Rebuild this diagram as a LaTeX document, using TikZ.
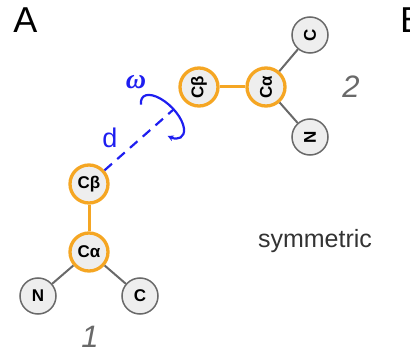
\documentclass[tikz,border=0pt]{standalone}
\usepackage{fontspec}
\setmainfont{Liberation Sans}
\newfontfamily\omfont{Liberation Serif}
\usetikzlibrary{arrows.meta}
\definecolor{cborange}{RGB}{245,166,35}
\definecolor{atomfill}{RGB}{238,238,238}
\definecolor{atomline}{RGB}{105,105,105}
\definecolor{dblue}{RGB}{30,30,240}
\tikzset{
  core/.style  = {circle, draw=cborange, line width=3.3pt, fill=atomfill, minimum size=38pt, inner sep=0, font=\fontsize{17}{17}\selectfont\bfseries},
  side/.style  = {circle, draw=atomline, line width=1.5pt, fill=atomfill, minimum size=36pt, inner sep=0, font=\fontsize{17}{17}\selectfont\bfseries},
  cbond/.style = {draw=cborange, line width=3pt},
  sbond/.style = {draw=atomline, line width=2pt},
  num/.style   = {text=atomline, inner sep=0, font=\fontsize{31}{31}\selectfont\itshape},
  geo/.style   = {dblue, line width=2.2pt}
}

\begin{document}
\begin{tikzpicture}[x=1pt,y=1pt]
  \useasboundingbox (0,0) rectangle (410,354);
  \node[font=\fontsize{36}{36}\selectfont] (pA) at (25.5,334) {A};
  \node[font=\fontsize{36}{36}\selectfont, anchor=west, inner sep=0] (pB) at (400,334) {B};
  % residuo 1 (in basso a sinistra)
  \node[core] (cb1) at (89,170) {Cβ};
  \node[core] (ca1) at (89,102) {Cα};
  \node[side] (n1) at (38,58) {N};
  \node[side] (c1) at (140,58) {C};
  \draw[cbond] (cb1)--(ca1); \draw[sbond] (ca1)--(n1); \draw[sbond] (ca1)--(c1);
  \node[num] (one) at (90,17) {1};
  % residuo 2, ruotato
  \node[core, rotate=90] (cb2) at (199,267) {Cβ};
  \node[core, rotate=90] (ca2) at (266,267) {Cα};
  \node[side, rotate=90] (c2) at (310,319) {C};
  \node[side, rotate=90] (n2) at (310,217) {N};
  \draw[cbond] (cb2)--(ca2); \draw[sbond] (ca2)--(c2); \draw[sbond] (ca2)--(n2);
  \node[num] (two) at (351,267) {2};
  % distanza d e angolo omega
  \draw[geo, dash pattern=on 10pt off 7pt, shorten >=13pt] (cb1)--(cb2);
  \coordinate (rot) at (162.5,237.5);
  \begin{scope}[shift={(rot)}, rotate=-45]
    \draw[geo, -{Stealth[length=6pt,width=6pt]}] (211:27.6pt and 13pt) arc[start angle=211, end angle=-51, x radius=27.6pt, y radius=13pt];
  \end{scope}
  \node[text=dblue, font=\fontsize{27}{27}\selectfont] (dist) at (110,216) {d};
  \node[text=dblue, font=\omfont\fontsize{28}{28}\selectfont\bfseries\itshape] (om) at (136,272) {ω};
  \node[text=black!80, font=\fontsize{25}{25}\selectfont] (sym) at (315,113) {symmetric};
\end{tikzpicture}
\end{document}
